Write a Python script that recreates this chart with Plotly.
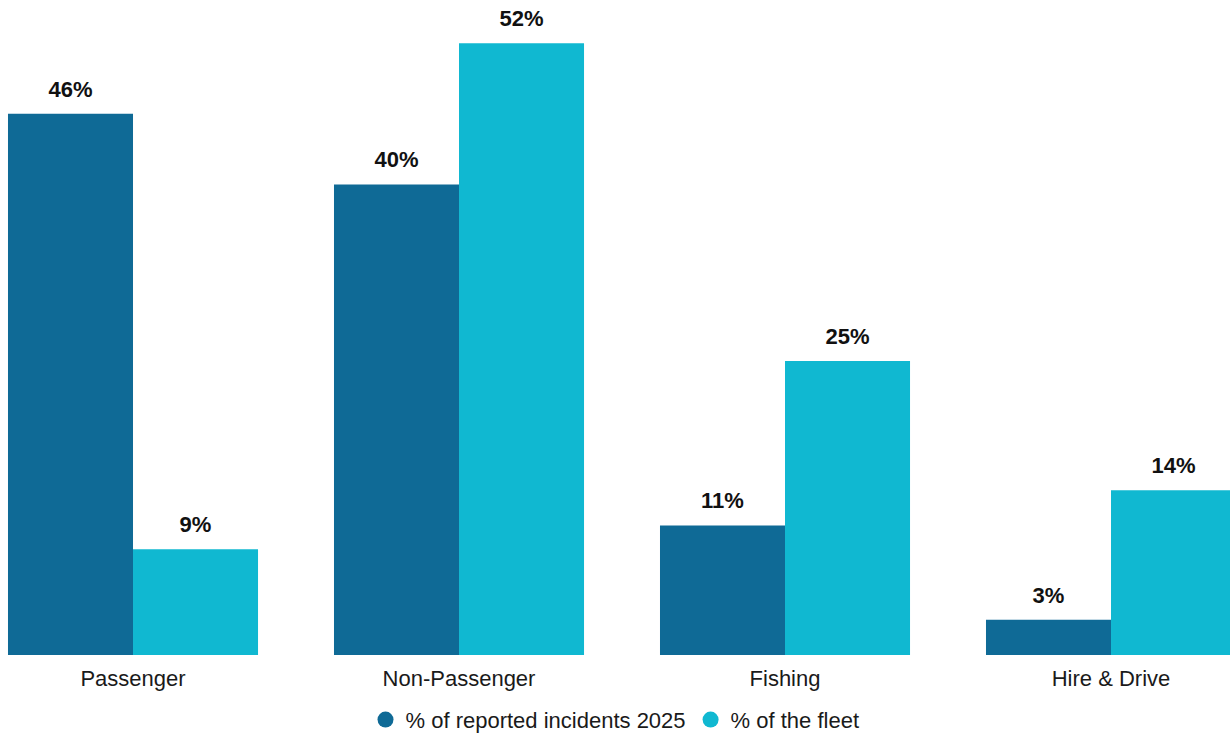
import plotly.graph_objects as go

categories = ["Passenger", "Non-Passenger", "Fishing", "Hire & Drive"]
incidents_2025 = [46, 40, 11, 3]
fleet_share = [9, 52, 25, 14]

series_names = ["% of reported incidents 2025", "% of the fleet"]
colors = ["#0f6a96", "#10b8d1"]
groups = ["a", "b"]

FONT = "Liberation Sans, Arial, sans-serif"

fig = go.Figure()

for name, values, color, grp in zip(series_names, [incidents_2025, fleet_share], colors, groups):
    fig.add_trace(go.Bar(
        x=categories,
        y=values,
        name=name,
        offsetgroup=grp,
        marker=dict(color=color, line=dict(width=0)),
        showlegend=False,
        hoverinfo="skip",
    ))
    # value labels sitting above each bar (grouped like the bars)
    fig.add_trace(go.Scatter(
        x=categories,
        y=values,
        offsetgroup=grp,
        mode="markers+text",
        marker=dict(size=17, opacity=0),
        text=[f"{v}%" for v in values],
        textposition="top center",
        textfont=dict(family=FONT, size=22, color="#111111", weight="bold"),
        cliponaxis=False,
        showlegend=False,
        hoverinfo="skip",
    ))
    # circle swatches for the legend
    fig.add_trace(go.Scatter(
        x=[None], y=[None], mode="markers", name=name,
        marker=dict(symbol="circle", size=20, color=color),
        showlegend=True,
    ))

fig.update_layout(
    width=1230,
    height=739,
    margin=dict(l=0, r=0, t=8, b=84),
    paper_bgcolor="white",
    plot_bgcolor="white",
    barmode="group",
    bargap=0.233,
    bargroupgap=0,
    scattermode="group",
    scattergap=0.233,
    font=dict(family=FONT, size=22, color="#1a1a1a"),
    xaxis=dict(
        range=[-0.408, 3.365],
        showgrid=False, zeroline=False, showline=False,
        ticks="outside", ticklen=4, tickcolor="rgba(0,0,0,0)",
        tickfont=dict(size=22, color="#1a1a1a"),
    ),
    yaxis=dict(
        range=[0, 55],
        visible=False,
    ),
    legend=dict(
        orientation="h",
        x=0.5, xanchor="center",
        yref="container",
        y=0.026, yanchor="middle",
        font=dict(size=22, color="#1a1a1a"),
        itemclick=False,
        tracegroupgap=0,
    ),
)

fig.write_html("out.html")
